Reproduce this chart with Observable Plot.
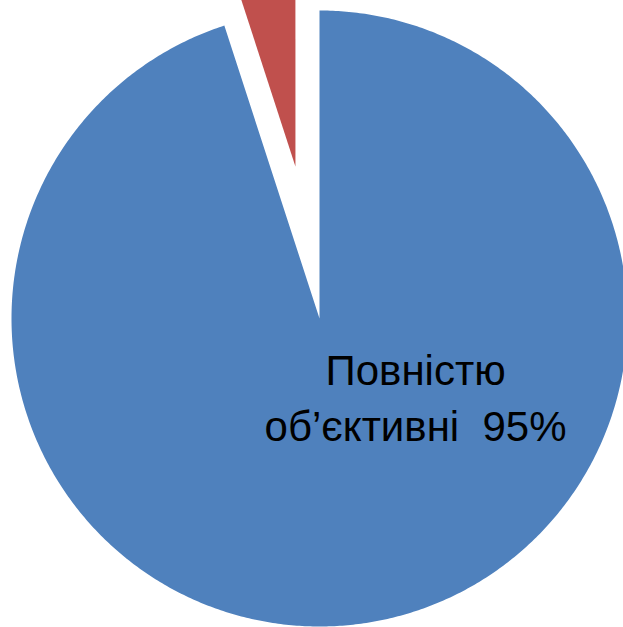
<!DOCTYPE html>
<html>
<head>
<meta charset="utf-8">
<script src="https://cdn.jsdelivr.net/npm/d3@7"></script>
<script src="https://cdn.jsdelivr.net/npm/@observablehq/plot@0.6"></script>
<style>
  html, body { margin: 0; padding: 0; background: #fff; overflow: hidden; }
</style>
</head>
<body>
<div id="chart"></div>
<script>
// Data
const categories = ["Повністю об’єктивні", "Частково об’єктивні"];
const values = [95, 5];
const explode = [0, 0.5];          // fraction of radius each slice is pulled out
const labelLines = [["Повністю", "об’єктивні  95%"], []];

// Layout
const W = 623, H = 627;
const R = 308, cx = 319, cy = 318;   // pixel geometry of the pie

const pie = d3.pie().sort(null).value(d => d.value).startAngle(0).endAngle(2 * Math.PI);
const arcs = pie(categories.map((c, i) => ({cat: c, value: values[i], ex: explode[i]})));

const pts = [];
arcs.forEach(a => {
  const mid = (a.startAngle + a.endAngle) / 2;
  const ox = Math.sin(mid) * a.data.ex, oy = Math.cos(mid) * a.data.ex;
  pts.push({cat: a.data.cat, x: ox, y: oy});
  const n = Math.max(2, Math.ceil((a.endAngle - a.startAngle) / (Math.PI / 360)));
  for (let k = 0; k <= n; k++) {
    const t = a.startAngle + (a.endAngle - a.startAngle) * k / n;
    pts.push({cat: a.data.cat, x: ox + Math.sin(t), y: oy + Math.cos(t)});
  }
  pts.push({cat: a.data.cat, x: ox, y: oy});
});

// label position (polar, in radius units) for the big slice
const labAngle = 2.271, labR = 0.408, lineGap = 0.182;
const labels = [];
labelLines.forEach((lines, i) => {
  lines.forEach((t, j) => {
    labels.push({text: t, x: Math.sin(labAngle) * labR,
                 y: Math.cos(labAngle) * labR - (j - (lines.length - 1) / 2) * lineGap});
  });
});

const chart = Plot.plot({
  width: W, height: H,
  margin: 0,
  x: {domain: [-cx / R, (W - cx) / R], axis: null},
  y: {domain: [-(H - cy) / R, cy / R], axis: null},
  color: {domain: categories, range: ["#4F81BD", "#C0504D"]},
  style: {background: "white"},
  marks: [
    Plot.line(pts, {x: "x", y: "y", z: "cat", fill: "cat", stroke: "none", curve: "linear"}),
    Plot.text(labels, {x: "x", y: "y", text: "text", fill: "black",
      fontSize: 42, fontFamily: "Liberation Sans, Arial, sans-serif", textAnchor: "middle", lineAnchor: "middle"})
  ]
});
document.getElementById("chart").appendChild(chart);
</script>
</body>
</html>
